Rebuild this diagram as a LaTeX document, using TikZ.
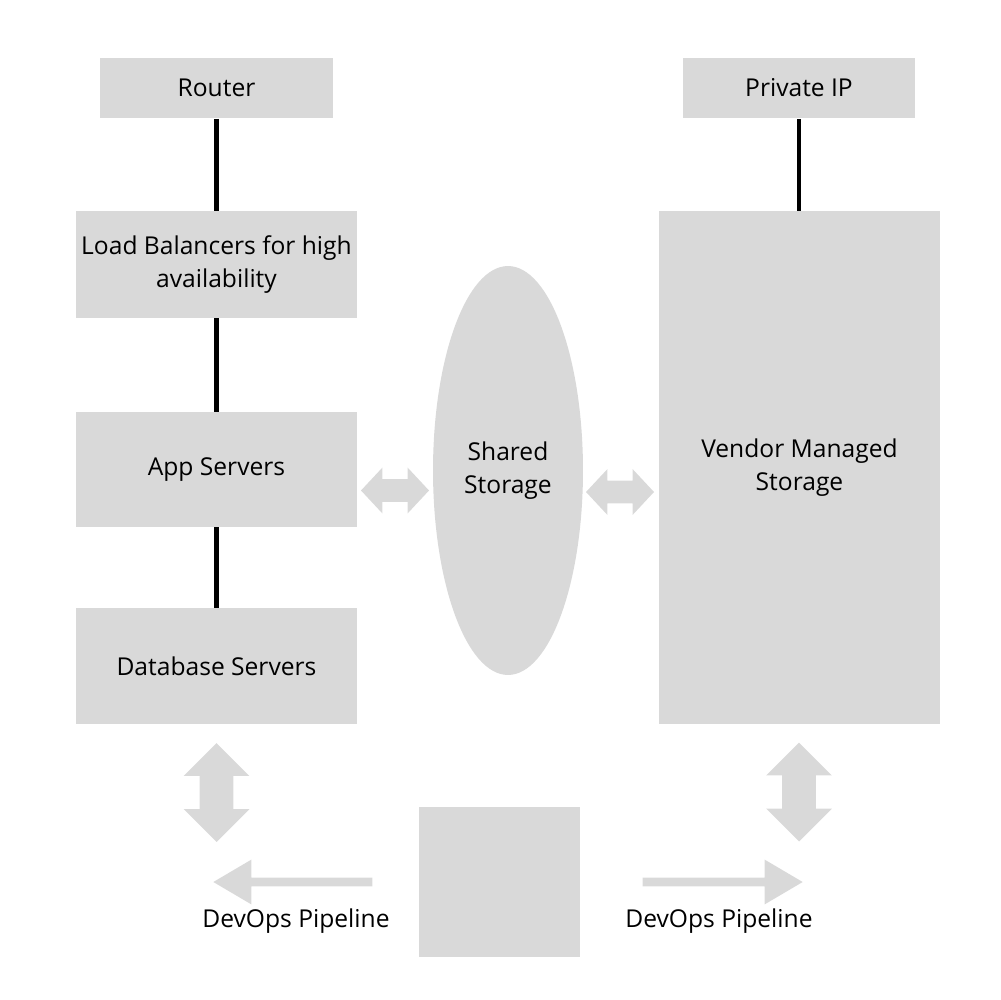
\documentclass[tikz,border=0pt]{standalone}
\usepackage{fontspec}
\setmainfont{Open Sans}
\usetikzlibrary{shapes.geometric,shapes.arrows}
\definecolor{boxgray}{HTML}{D9D9D9}
\tikzset{box/.style={fill=boxgray,draw=none,inner sep=0pt,align=center,font=\fontsize{14}{18.8}\selectfont},
link/.style={-,draw,line width=2.3pt},
dblarrow/.style={shape=double arrow,fill=boxgray,draw=none},
onearrow/.style={shape=single arrow,fill=boxgray,draw=none},
label/.style={anchor=base,inner sep=0pt,font=\fontsize{14}{18.8}\selectfont}}

\begin{document}
\begin{tikzpicture}[x=0.02cm,y=-0.02cm]
\useasboundingbox (0,0) rectangle (1000,1000);

\node[box,minimum width=4.66cm,minimum height=1.22cm] (router) at (216.5,88) {Router};
\node[box,minimum width=4.64cm,minimum height=1.22cm] (privip) at (799,88) {Private IP};
\node[box,minimum width=5.62cm,minimum height=2.14cm] (lb) at (216.5,264.5) {Load Balancers for high\\availability};
\node[box,minimum width=5.62cm,minimum height=2.30cm] (app) at (216.5,469.5) {App Servers};
\node[box,minimum width=5.62cm,minimum height=2.32cm] (db) at (216.5,666) {Database Servers};
\node[box,minimum width=5.62cm,minimum height=10.26cm] (vendor) at (799.5,467.5) {Vendor Managed\\Storage};
\node[box,ellipse,minimum width=3cm,minimum height=8.18cm] (shared) at (508,470.5) {Shared\\Storage};
\node[box,minimum width=3.22cm,minimum height=3cm] (devops) at (499.5,882) {};

\draw[link] (router) -- (lb);
\draw[link] (lb) -- (app);
\draw[link] (app) -- (db);
\draw[link] (privip.south) -- (privip.south |- vendor.north);

\node[dblarrow,inner sep=0.22cm,minimum height=1.36cm,double arrow head extend=0.23cm,double arrow tip angle=94] (hl) at (395,490.5) {};
\node[dblarrow,inner sep=0.22cm,minimum height=1.36cm,double arrow head extend=0.23cm,double arrow tip angle=94] (hr) at (620,492) {};
\node[dblarrow,shape border rotate=90,inner sep=0.33cm,minimum height=1.98cm,double arrow head extend=0.32cm,double arrow tip angle=90] (vl) at (216.5,792.5) {};
\node[dblarrow,shape border rotate=90,inner sep=0.33cm,minimum height=1.98cm,double arrow head extend=0.32cm,double arrow tip angle=90] (vr) at (799,792) {};
\node[onearrow,shape border rotate=180,inner sep=0.08cm,minimum height=3.18cm,single arrow head extend=0.36cm,single arrow tip angle=61] (pl) at (296.5,882) {};
\node[onearrow,inner sep=0.08cm,minimum height=3.2cm,single arrow head extend=0.36cm,single arrow tip angle=61] (pr) at (719,882) {};

\node[label] (pltext) at (296,927) {DevOps Pipeline};
\node[label] (prtext) at (719,927) {DevOps Pipeline};
\end{tikzpicture}
\end{document}
